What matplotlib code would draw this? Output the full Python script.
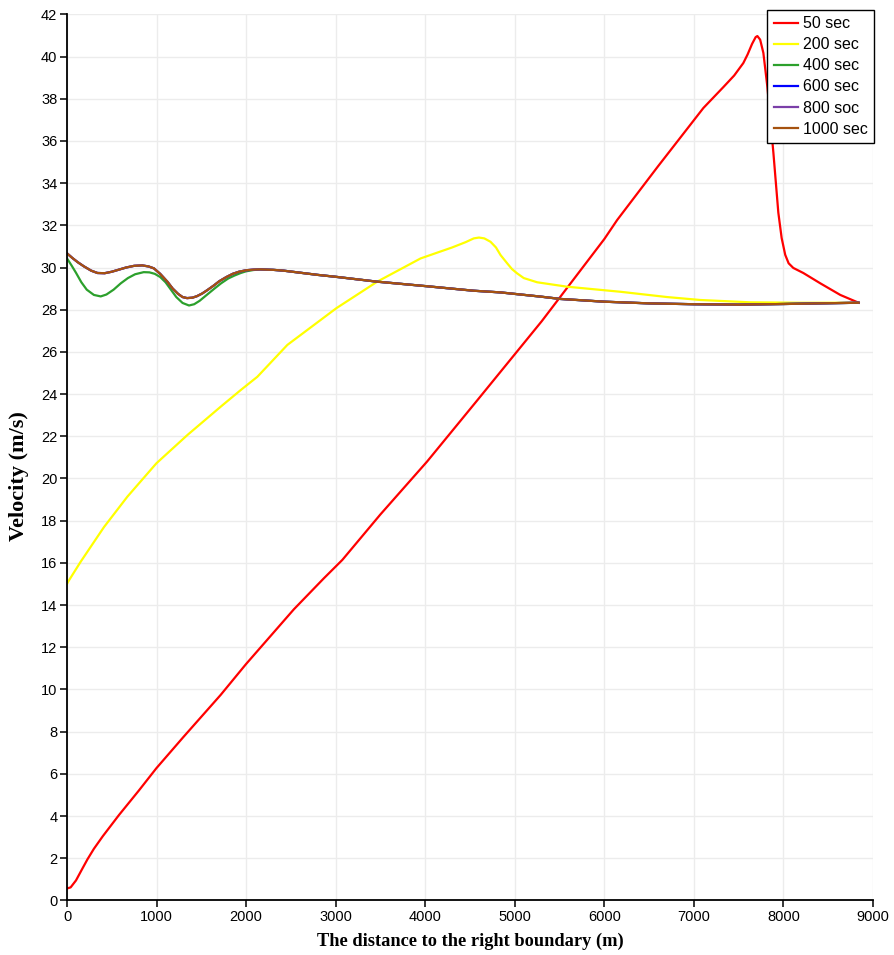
import numpy as np
from matplotlib import pyplot as plt

# velocity profiles along the channel, one per output time
dist_50 = [0, 40, 100, 170, 228, 300, 400, 580, 800, 998, 1300, 1715, 1998, 2533, 2868, 3074,
           3500, 4020, 4580, 5300, 6000, 6143, 6600, 7106, 7329, 7450, 7552, 7600, 7650, 7690,
           7709, 7740, 7776, 7821, 7888, 7943, 7980, 8020, 8058, 8110, 8222, 8412, 8635, 8840]
vel_50 = [0.57, 0.62, 0.95, 1.5, 1.95, 2.45, 3.05, 4.05, 5.2, 6.27, 7.75, 9.74, 11.2, 13.8, 15.27, 16.14,
          18.3, 20.8, 23.7, 27.45, 31.35, 32.25, 34.8, 37.56, 38.55, 39.1, 39.69, 40.1, 40.6, 40.92,
          40.97, 40.8, 40.17, 38.55, 35.43, 32.6, 31.4, 30.6, 30.2, 29.98, 29.74, 29.25, 28.7, 28.33]

dist_200 = [0, 11, 153, 413, 674, 998, 1344, 1715, 1939, 2125, 2460, 3007, 3464, 3948, 4300,
            4450, 4542, 4600, 4660, 4729, 4790, 4841, 4915, 4970, 5027, 5100, 5250, 5585, 6180,
            6700, 7073, 7631, 8189, 8840]
vel_200 = [15.0, 15.1, 16.06, 17.7, 19.14, 20.72, 22.06, 23.4, 24.19, 24.82, 26.33, 28.07, 29.33, 30.43, 30.95,
           31.2, 31.38, 31.42, 31.38, 31.22, 30.95, 30.59, 30.2, 29.92, 29.72, 29.5, 29.3, 29.09, 28.85,
           28.6, 28.46, 28.35, 28.33, 28.33]

dist_400 = [0, 50, 100, 160, 220, 300, 376, 440, 520, 600, 680, 760, 856, 920, 980,
            1040, 1100, 1160, 1220, 1290, 1362, 1420, 1480, 1560, 1640, 1720, 1800, 1870,
            1940, 2000, 2080, 2160, 2300, 2420, 2800, 3000, 3460, 4000, 4540, 4840, 5290,
            5510, 6000, 6500, 7000, 7500, 8000, 8400, 8840]
vel_400 = [30.43, 30.1, 29.75, 29.3, 28.95, 28.7, 28.63, 28.72, 28.95, 29.25, 29.5, 29.68, 29.78, 29.77, 29.7,
           29.55, 29.3, 28.95, 28.6, 28.32, 28.2, 28.26, 28.42, 28.7, 28.98, 29.25, 29.48, 29.62,
           29.74, 29.82, 29.88, 29.91, 29.89, 29.85, 29.65, 29.56, 29.33, 29.12, 28.9, 28.82, 28.62,
           28.51, 28.38, 28.3, 28.26, 28.24, 28.27, 28.3, 28.33]

dist_late = [0, 60, 120, 190, 270, 340, 420, 500, 580, 660, 750, 840, 910, 970, 1040,
             1120, 1180, 1240, 1290, 1340, 1400, 1450, 1510, 1567, 1640, 1700, 1780, 1850,
             1920, 2000, 2080, 2160, 2300, 2420, 2800, 3000, 3460, 4000, 4540, 4840, 5290,
             5510, 6000, 6500, 7000, 7500, 8000, 8400, 8840]
vel_600 = [30.67, 30.45, 30.25, 30.05, 29.85, 29.74, 29.73, 29.8, 29.9, 30.0, 30.08, 30.1, 30.05, 29.96, 29.7,
           29.33, 29.0, 28.75, 28.6, 28.55, 28.57, 28.64, 28.77, 28.93, 29.15, 29.35, 29.55, 29.7,
           29.8, 29.87, 29.9, 29.91, 29.89, 29.85, 29.65, 29.56, 29.33, 29.12, 28.9, 28.82, 28.62,
           28.51, 28.38, 28.3, 28.26, 28.24, 28.27, 28.3, 28.33]
vel_800 = list(vel_600)
vel_1000 = list(vel_600)

labels = ["50 sec", "200 sec", "400 sec", "600 sec", "800 soc", "1000 sec"]
colors = ["#ff0000", "#ffff00", "#2ca02c", "#0000ff", "#7b3fa8", "#a5520f"]

fig = plt.figure(figsize=(8.95, 9.55), dpi=100)
ax = fig.add_axes([0.0749, 0.0571, 0.9005, 0.9279])

series = [(dist_50, vel_50), (dist_200, vel_200), (dist_400, vel_400),
          (dist_late, vel_600), (dist_late, vel_800), (dist_late, vel_1000)]
for (d, v), lab, c in zip(series, labels, colors):
    ax.plot(d, v, color=c, lw=1.6, label=lab, solid_joinstyle="round")

ax.set_xlim(0, 9000)
ax.set_ylim(0, 42)
ax.set_xticks(np.arange(0, 9001, 1000))
ax.set_yticks(np.arange(0, 43, 2))
ax.grid(True, color="#ececec", lw=1.0)
ax.set_axisbelow(True)
for side in ["top", "right"]:
    ax.spines[side].set_visible(False)
for side in ["left", "bottom"]:
    ax.spines[side].set_linewidth(1.3)
ax.tick_params(direction="out", length=5, width=1.1, labelsize=10.5, pad=2)
for t in ax.get_xticklabels() + ax.get_yticklabels():
    t.set_fontfamily("Liberation Sans")

ax.set_xlabel("The distance to the right boundary (m)", fontfamily="Liberation Serif",
              fontweight="bold", fontsize=13.2, labelpad=6)
ax.set_ylabel("Velocity (m/s)", fontfamily="Liberation Serif",
              fontweight="bold", fontsize=16)
ax.yaxis.set_label_coords(-0.047, 0.479)

leg = ax.legend(loc="upper right", bbox_to_anchor=(1.001, 1.005), fancybox=False,
                edgecolor="black", framealpha=1, borderpad=0.4, labelspacing=0.38,
                handlelength=1.5, handletextpad=0.3, borderaxespad=0,
                prop={"family": "Liberation Sans", "size": 11.5})
leg.get_frame().set_linewidth(1.0)

fig.savefig("out.png", dpi=100)
